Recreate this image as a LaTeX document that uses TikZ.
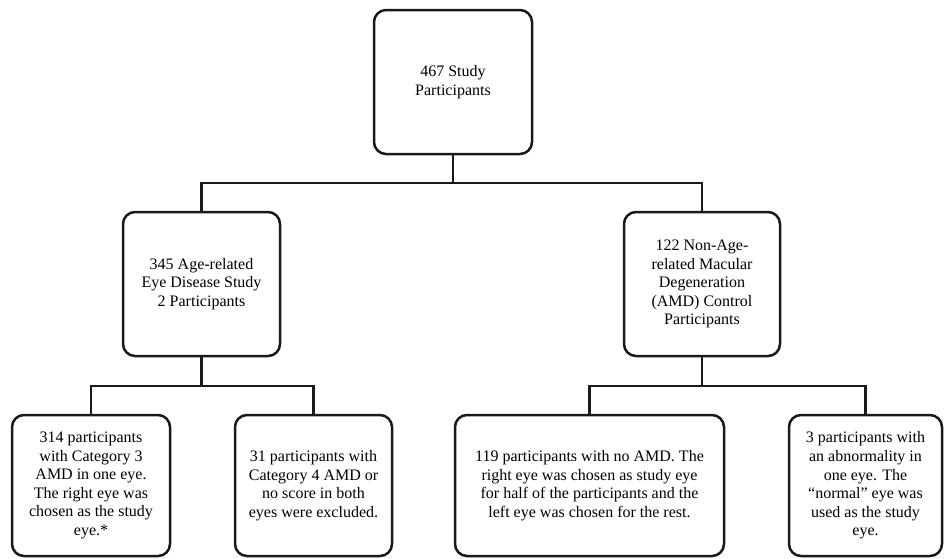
\documentclass[tikz,border=0pt]{standalone}
\usepackage{fontspec}
\setmainfont{Liberation Serif}
\begin{document}
\begin{tikzpicture}[x=1pt,y=-1pt,
  box/.style={draw=black!90, line width=2.5pt, rounded corners=12pt, align=center,
    inner sep=0pt, font=\fontsize{16}{18.6}\selectfont},
  link/.style={draw=black!90, line width=2.5pt}]
\useasboundingbox (0,0) rectangle (944,558);
\node[box, minimum width=158, minimum height=144] (top) at (453,82) {467 Study\\Participants};
\node[box, minimum width=157, minimum height=144] (ml) at (201.5,284) {345 Age-related\\Eye Disease Study\\2 Participants};
\node[box, minimum width=156, minimum height=144] (mr) at (702,284) {122 Non-Age-\\related Macular\\Degeneration\\(AMD) Control\\Participants};
\node[box, minimum width=158, minimum height=141] (b1) at (91,485.5) {314 participants\\with Category 3\\AMD in one eye.\\The right eye was\\chosen as the study\\eye.*};
\node[box, minimum width=157, minimum height=141] (b2) at (313.5,485.5) {31 participants with\\Category 4 AMD or\\no score in both\\eyes were excluded.};
\node[box, minimum width=269, minimum height=141] (b3) at (589.5,485.5) {119 participants with no AMD. The\\right eye was chosen as study eye\\for half of the participants and the\\left eye was chosen for the rest.};
\node[box, minimum width=153, minimum height=141] (b4) at (865.5,485.5) {3 participants with\\an abnormality in\\one eye. The\\``normal'' eye was\\used as the study\\eye.};
\coordinate (j1) at (453,183);
\coordinate (j2) at (201.5,386);
\coordinate (j3) at (702,386);
\draw[link] (top.south) -- (j1);
\draw[link] (ml.north) |- (j1) -| (mr.north);
\draw[link] (ml.south) -- (j2);
\draw[link] (b1.north) |- (j2) -| (b2.north);
\draw[link] (mr.south) -- (j3);
\draw[link] (b3.north) |- (j3) -| (b4.north);
\end{tikzpicture}
\end{document}
